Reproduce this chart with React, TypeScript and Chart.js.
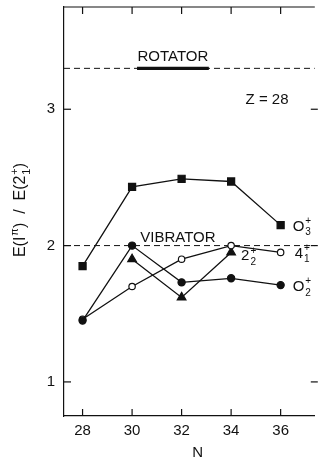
import React, { useEffect, useRef } from "react";
import { Chart, registerables } from "chart.js";

Chart.register(...registerables);

// Neutron number on the x axis
const N = [28, 30, 32, 34, 36];

// Energy ratios E(I^pi)/E(2_1^+) for each level
const ZERO3 = [1.85, 2.43, 2.49, 2.47, 2.15];
const FOUR1 = [1.46, 1.7, 1.9, 2.0, 1.95];
const TWO2: (number | null)[] = [null, 1.9, 1.62, 1.95, null];
const ZERO2 = [1.45, 2.0, 1.73, 1.76, 1.71];

// Limiting-case reference values
const VIBRATOR = 2.0;
const ROTATOR = 3.3;
const ROTATOR_BAR = [30.2, 33.1];

const X_TICKS = [28, 30, 32, 34, 36];
const Y_TICKS = [1, 2, 3];

const X_MIN = 27.25;
const X_MAX = 37.38;
const Y_MIN = 0.75;
const Y_MAX = 3.75;

const INK = "#111";
const FONT = "'Liberation Sans', Arial, Helvetica, sans-serif";

const pts = (ys: (number | null)[]) =>
  N.map((n, i) => ({ x: n, y: ys[i] })).filter((p) => p.y !== null);

type Part = { t: string; sub?: string; sup?: string };

// Draws text with stacked sub/superscripts starting at (x, y) baseline
function drawRich(ctx: CanvasRenderingContext2D, parts: Part[], x: number, y: number, size = 15) {
  let cx = x;
  const small = Math.round(size * 0.68);
  for (const p of parts) {
    if (p.t) {
      ctx.font = `${size}px ${FONT}`;
      ctx.fillText(p.t, cx, y);
      cx += ctx.measureText(p.t).width;
    }
    let w = 0;
    ctx.font = `${small}px ${FONT}`;
    if (p.sup) {
      ctx.fillText(p.sup, cx + 1, y - size * 0.45);
      w = Math.max(w, ctx.measureText(p.sup).width + 1);
    }
    if (p.sub) {
      ctx.fillText(p.sub, cx + 1, y + size * 0.3);
      w = Math.max(w, ctx.measureText(p.sub).width + 1);
    }
    cx += w;
  }
  return cx - x;
}

function measureRich(ctx: CanvasRenderingContext2D, parts: Part[], size = 15) {
  let w = 0;
  const small = Math.round(size * 0.68);
  for (const p of parts) {
    ctx.font = `${size}px ${FONT}`;
    w += ctx.measureText(p.t).width;
    ctx.font = `${small}px ${FONT}`;
    w += Math.max(p.sup ? ctx.measureText(p.sup).width + 1 : 0, p.sub ? ctx.measureText(p.sub).width + 1 : 0);
  }
  return w;
}

const frameAndLabels = {
  id: "frameAndLabels",
  afterDatasetsDraw(chart: any) {
    const { ctx, chartArea: a, scales } = chart;
    const x = scales.x;
    const y = scales.y;
    ctx.save();
    ctx.strokeStyle = INK;
    ctx.fillStyle = INK;
    ctx.lineWidth = 1.2;
    ctx.setLineDash([]);

    const seg = (x1: number, y1: number, x2: number, y2: number) => {
      ctx.beginPath();
      ctx.moveTo(x1, y1);
      ctx.lineTo(x2, y2);
      ctx.stroke();
    };

    // top frame line and inward ticks
    seg(a.left, a.top, a.right, a.top);
    for (const v of X_TICKS) {
      const px = x.getPixelForValue(v);
      seg(px, a.bottom, px, a.bottom - 7);
      seg(px, a.top, px, a.top + 7);
    }
    for (const v of Y_TICKS) {
      const py = y.getPixelForValue(v);
      seg(a.left, py, a.left + 7, py);
      seg(a.right + 3, py, a.right - 4, py);
    }

    ctx.textBaseline = "alphabetic";
    ctx.font = `15px ${FONT}`;

    // limiting-case labels
    const rx = (x.getPixelForValue(ROTATOR_BAR[0]) + x.getPixelForValue(ROTATOR_BAR[1])) / 2;
    ctx.textAlign = "center";
    ctx.fillText("ROTATOR", rx, y.getPixelForValue(ROTATOR) - 7);
    ctx.fillText("VIBRATOR", x.getPixelForValue(31.85), y.getPixelForValue(VIBRATOR) - 4);
    ctx.fillText("Z = 28", x.getPixelForValue(35.45), y.getPixelForValue(3.04));
    ctx.fillText("N", x.getPixelForValue(32.65), 457);

    // level labels next to the curves
    ctx.textAlign = "left";
    const last = N.length - 1;
    const lx = x.getPixelForValue(N[last]) + 12;
    drawRich(ctx, [{ t: "O", sub: "3", sup: "+" }], lx, y.getPixelForValue(ZERO3[last]) + 5.5);
    drawRich(ctx, [{ t: "4", sub: "1", sup: "+" }], lx + 2, y.getPixelForValue(FOUR1[last]) + 5.5);
    drawRich(ctx, [{ t: "O", sub: "2", sup: "+" }], lx, y.getPixelForValue(ZERO2[last]) + 6);
    drawRich(
      ctx,
      [{ t: "2", sub: "2", sup: "+" }],
      x.getPixelForValue(34) + 10,
      y.getPixelForValue(TWO2[3] as number) + 8
    );

    // vertical axis title
    const title: Part[] = [
      { t: "E(I", sup: "\u03c0" },
      { t: ")  /  E(2", sub: "1", sup: "+" },
      { t: ")" },
    ];
    const tw = measureRich(ctx, title, 16);
    ctx.translate(25, 210);
    ctx.rotate(-Math.PI / 2);
    drawRich(ctx, title, -tw / 2, 0, 16);
    ctx.restore();
  },
};

// Drop the label-overhang padding so the plot frame sits where it is laid out
const noOverhang = (s: any) => {
  s.paddingTop = 0;
  s.paddingBottom = 0;
  s.paddingLeft = 0;
  s.paddingRight = 0;
};

export default function App() {
  const ref = useRef<HTMLCanvasElement>(null);

  useEffect(() => {
    if (!ref.current) return;
    Chart.defaults.font.family = FONT;
    Chart.defaults.color = INK;

    const markerLine = {
      borderColor: INK,
      borderWidth: 1.3,
      pointBorderColor: INK,
      pointBorderWidth: 1.2,
      tension: 0,
      fill: false,
    };

    const chart = new Chart(ref.current, {
      type: "line",
      data: {
        datasets: [
          {
            ...markerLine,
            label: "0+2",
            data: pts(ZERO2),
            pointStyle: "circle",
            pointRadius: 3.6,
            pointBackgroundColor: INK,
          },
          {
            ...markerLine,
            label: "4+1",
            data: pts(FOUR1),
            pointStyle: "circle",
            pointRadius: 3.2,
            pointBackgroundColor: "#fff",
          },
          {
            ...markerLine,
            label: "2+2",
            data: pts(TWO2),
            pointStyle: "triangle",
            pointRadius: 5,
            pointBackgroundColor: INK,
          },
          {
            ...markerLine,
            label: "0+3",
            data: pts(ZERO3),
            pointStyle: "rect",
            pointRadius: 5,
            pointBackgroundColor: INK,
          },
          {
            label: "rotator bar",
            data: ROTATOR_BAR.map((v) => ({ x: v, y: ROTATOR })),
            borderColor: INK,
            borderWidth: 3.2,
            pointRadius: 0,
          },
          {
            label: "rotator",
            data: [
              { x: X_MIN, y: ROTATOR },
              { x: X_MAX, y: ROTATOR },
            ],
            borderColor: INK,
            borderWidth: 1,
            borderDash: [6, 4],
            pointRadius: 0,
          },
          {
            label: "vibrator",
            data: [
              { x: X_MIN, y: VIBRATOR },
              { x: X_MAX, y: VIBRATOR },
            ],
            borderColor: INK,
            borderWidth: 1,
            borderDash: [6, 4],
            pointRadius: 0,
          },
        ],
      },
      options: {
        responsive: false,
        animation: false,
        devicePixelRatio: 1,
        layout: { padding: { top: 7, right: 0, left: 0, bottom: 0 } },
        plugins: { legend: { display: false }, tooltip: { enabled: false } },
        scales: {
          x: {
            type: "linear",
            min: X_MIN,
            max: X_MAX,
            grid: { display: false, drawTicks: false },
            border: { display: true, color: INK, width: 1.2 },
            ticks: { font: { size: 15 }, color: INK, padding: 6, maxRotation: 0 },
            afterBuildTicks: (s: any) => {
              s.ticks = X_TICKS.map((v) => ({ value: v }));
            },
            afterFit: (s: any) => {
              s.height = 44;
              noOverhang(s);
            },
          },
          y: {
            type: "linear",
            min: Y_MIN,
            max: Y_MAX,
            grid: { display: false, drawTicks: false },
            border: { display: true, color: INK, width: 1.2 },
            ticks: { font: { size: 15 }, color: INK, padding: 9 },
            afterBuildTicks: (s: any) => {
              s.ticks = Y_TICKS.map((v) => ({ value: v }));
            },
            afterFit: (s: any) => {
              s.width = 64;
              noOverhang(s);
            },
          },
        },
      },
      plugins: [frameAndLabels],
    } as any);

    return () => chart.destroy();
  }, []);

  return (
    <div style={{ position: "absolute", left: 0, top: 0, width: 321, height: 460, background: "#fff" }}>
      <canvas ref={ref} width={321} height={460} />
    </div>
  );
}
